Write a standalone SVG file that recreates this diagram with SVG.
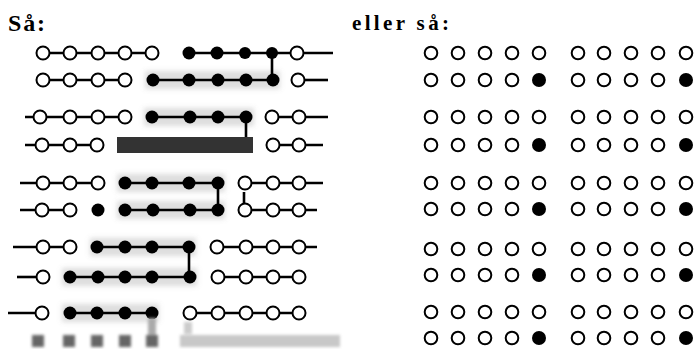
<svg xmlns="http://www.w3.org/2000/svg" width="698" height="349" viewBox="0 0 698 349">
<style>
.o{fill:#fff;stroke:#000;stroke-width:2}
.f{fill:#000}
.l{stroke:#000;stroke-width:2.6;fill:none}
.ro{fill:#fff;stroke:#000;stroke-width:2}
.t{font-family:"Liberation Serif","DejaVu Serif",serif;font-weight:bold;fill:#000}
.halo{fill:#777;opacity:0.25}
</style>
<defs>
<filter id="blur" x="-20%" y="-50%" width="140%" height="200%"><feGaussianBlur stdDeviation="2.5"/></filter>
<filter id="blur2" x="-20%" y="-50%" width="140%" height="200%"><feGaussianBlur stdDeviation="1.5"/></filter>
</defs>
<rect width="698" height="349" fill="#fff"/>
<text class="t" x="8" y="31" font-size="24" textLength="37" lengthAdjust="spacing">Så:</text>
<text class="t" x="352" y="30" font-size="21" textLength="97" lengthAdjust="spacing">eller så:</text>

<g id="halos" filter="url(#blur)">
<rect class="halo" x="145" y="71" width="135" height="18"/>
<rect class="halo" x="144" y="108" width="110" height="18"/>
<rect class="halo" x="117" y="174" width="108" height="18"/>
<rect class="halo" x="117" y="201" width="108" height="18"/>
<rect class="halo" x="90" y="238" width="106" height="18"/>
<rect class="halo" x="62" y="268" width="135" height="18"/>
<rect class="halo" x="62" y="304" width="97" height="18"/>
</g>

<g id="connectors">
<line class="l" x1="43" y1="53" x2="152" y2="53"/>
<line class="l" x1="189" y1="53" x2="333" y2="53"/>
<line class="l" x1="272" y1="53" x2="272" y2="80"/>
<line class="l" x1="43" y1="80" x2="125" y2="80"/>
<line class="l" x1="153" y1="80" x2="273" y2="80"/>
<line class="l" x1="298" y1="80" x2="328" y2="80"/>
<line class="l" x1="25" y1="117" x2="125" y2="117"/>
<line class="l" x1="152" y1="117" x2="246" y2="117"/>
<line class="l" x1="272" y1="117" x2="328" y2="117"/>
<line class="l" x1="246" y1="117" x2="246" y2="138"/>
<line class="l" x1="25" y1="145" x2="97" y2="145"/>
<line class="l" x1="273" y1="145" x2="323" y2="145"/>
<line class="l" x1="20" y1="183" x2="98" y2="183"/>
<line class="l" x1="125" y1="183" x2="218" y2="183"/>
<line class="l" x1="245" y1="183" x2="323" y2="183"/>
<line class="l" x1="218" y1="183" x2="218" y2="210"/>
<line class="l" x1="244" y1="192" x2="244" y2="205"/>
<line class="l" x1="20" y1="210" x2="70" y2="210"/>
<line class="l" x1="125" y1="210" x2="218" y2="210"/>
<line class="l" x1="245" y1="210" x2="317" y2="210"/>
<line class="l" x1="13" y1="247" x2="70" y2="247"/>
<line class="l" x1="97" y1="247" x2="189" y2="247"/>
<line class="l" x1="217" y1="247" x2="317" y2="247"/>
<line class="l" x1="189" y1="247" x2="189" y2="277"/>
<line class="l" x1="17" y1="277" x2="43" y2="277"/>
<line class="l" x1="70" y1="277" x2="190" y2="277"/>
<line class="l" x1="218" y1="277" x2="299" y2="277"/>
<line class="l" x1="8" y1="313" x2="42" y2="313"/>
<line class="l" x1="70" y1="313" x2="152" y2="313"/>
<line class="l" x1="190" y1="313" x2="299" y2="313"/>
</g>

<g id="row1">
<circle class="o" cx="43" cy="53" r="6.5"/><circle class="o" cx="70" cy="53" r="6.5"/><circle class="o" cx="98" cy="53" r="6.5"/><circle class="o" cx="125" cy="53" r="6.5"/><circle class="o" cx="152" cy="53" r="6.5"/>
<circle class="f" cx="189" cy="53" r="6.5"/><circle class="f" cx="217" cy="53" r="6.5"/><circle class="f" cx="245" cy="53" r="6"/><circle class="f" cx="272" cy="53" r="6"/>
<circle class="o" cx="297" cy="53" r="6.5"/>
</g>
<g id="row2">
<circle class="o" cx="43" cy="80" r="6.5"/><circle class="o" cx="70" cy="80" r="6.5"/><circle class="o" cx="98" cy="80" r="6.5"/><circle class="o" cx="125" cy="80" r="6.5"/>
<circle class="f" cx="153" cy="80" r="6.5"/><circle class="f" cx="189" cy="80" r="6.5"/><circle class="f" cx="218" cy="80" r="6.5"/><circle class="f" cx="246" cy="80" r="6.5"/><circle class="f" cx="273" cy="80" r="6.5"/>
<circle class="o" cx="298" cy="80" r="6.5"/>
</g>
<g id="row3">
<circle class="o" cx="40" cy="117" r="6.5"/><circle class="o" cx="70" cy="117" r="6.5"/><circle class="o" cx="98" cy="117" r="6.5"/><circle class="o" cx="125" cy="117" r="6.5"/>
<circle class="f" cx="152" cy="117" r="6.5"/><circle class="f" cx="190" cy="117" r="6.5"/><circle class="f" cx="218" cy="117" r="6.5"/><circle class="f" cx="246" cy="117" r="6.5"/>
<circle class="o" cx="272" cy="117" r="6.5"/><circle class="o" cx="299" cy="117" r="6.5"/>
</g>
<g id="row4">
<circle class="o" cx="42" cy="145" r="6.5"/><circle class="o" cx="70" cy="145" r="6.5"/><circle class="o" cx="97" cy="145" r="6.5"/>
<rect x="117" y="137" width="136" height="16" fill="#333"/>
<circle class="o" cx="273" cy="145" r="6.5"/><circle class="o" cx="299" cy="145" r="6.5"/>
</g>
<g id="row5">
<circle class="o" cx="43" cy="183" r="6.5"/><circle class="o" cx="70" cy="183" r="6.5"/><circle class="o" cx="98" cy="183" r="6.5"/>
<circle class="f" cx="125" cy="183" r="6.5"/><circle class="f" cx="152" cy="183" r="6.5"/><circle class="f" cx="189" cy="183" r="6.5"/><circle class="f" cx="218" cy="183" r="6.5"/>
<circle class="o" cx="245" cy="183" r="6.5"/><circle class="o" cx="273" cy="183" r="6.5"/><circle class="o" cx="299" cy="183" r="6.5"/>
</g>
<g id="row6">
<circle class="o" cx="42" cy="210" r="6.5"/><circle class="o" cx="70" cy="210" r="6.5"/>
<circle class="f" cx="98" cy="210" r="6.5"/>
<circle class="f" cx="125" cy="210" r="6.5"/><circle class="f" cx="153" cy="210" r="6.5"/><circle class="f" cx="190" cy="210" r="6.5"/><circle class="f" cx="218" cy="210" r="6.5"/>
<circle class="o" cx="245" cy="210" r="6.5"/><circle class="o" cx="273" cy="210" r="6.5"/><circle class="o" cx="299" cy="210" r="6.5"/>
</g>
<g id="row7">
<circle class="o" cx="43" cy="247" r="6.5"/><circle class="o" cx="70" cy="247" r="6.5"/>
<circle class="f" cx="97" cy="247" r="6.5"/><circle class="f" cx="125" cy="247" r="6.5"/><circle class="f" cx="152" cy="247" r="6.5"/><circle class="f" cx="189" cy="247" r="6.5"/>
<circle class="o" cx="217" cy="247" r="6.5"/><circle class="o" cx="246" cy="247" r="6.5"/><circle class="o" cx="273" cy="247" r="6.5"/><circle class="o" cx="299" cy="247" r="6.5"/>
</g>
<g id="row8">
<circle class="o" cx="43" cy="277" r="6.5"/>
<circle class="f" cx="70" cy="277" r="6.5"/><circle class="f" cx="98" cy="277" r="6.5"/><circle class="f" cx="125" cy="277" r="6.5"/><circle class="f" cx="152" cy="277" r="6.5"/><circle class="f" cx="190" cy="277" r="6.5"/>
<circle class="o" cx="218" cy="277" r="6.5"/><circle class="o" cx="246" cy="277" r="6.5"/><circle class="o" cx="273" cy="277" r="6.5"/><circle class="o" cx="299" cy="277" r="6.5"/>
</g>
<g id="row9">
<circle class="o" cx="42" cy="313" r="6.5"/>
<circle class="f" cx="70" cy="313" r="6.5"/><circle class="f" cx="97" cy="313" r="6.5"/><circle class="f" cx="125" cy="313" r="6.5"/><circle class="f" cx="152" cy="313" r="6.5"/>
<circle class="o" cx="190" cy="313" r="6.5"/><circle class="o" cx="218" cy="313" r="6.5"/><circle class="o" cx="246" cy="313" r="6.5"/><circle class="o" cx="273" cy="313" r="6.5"/><circle class="o" cx="299" cy="313" r="6.5"/>
</g>
<g id="row10" filter="url(#blur2)">
<rect x="148" y="318" width="8" height="20" fill="#aaa"/>
<rect x="32" y="335" width="12" height="12" fill="#666"/><rect x="63" y="335" width="12" height="12" fill="#666"/><rect x="91" y="335" width="12" height="12" fill="#666"/><rect x="119" y="335" width="12" height="12" fill="#666"/><rect x="146" y="335" width="12" height="12" fill="#666"/>
<rect x="184" y="322" width="8" height="12" fill="#ccc"/>
<rect x="180" y="335" width="160" height="12" fill="#c8c8c8"/>
</g>

<g id="grid">
<g id="g1"><circle class="ro" cx="431" cy="53" r="6.3"/><circle class="ro" cx="458" cy="53" r="6.3"/><circle class="ro" cx="485" cy="53" r="6.3"/><circle class="ro" cx="512" cy="53" r="6.3"/><circle class="ro" cx="539" cy="53" r="6.3"/><circle class="ro" cx="578" cy="53" r="6.3"/><circle class="ro" cx="604" cy="53" r="6.3"/><circle class="ro" cx="631" cy="53" r="6.3"/><circle class="ro" cx="658" cy="53" r="6.3"/><circle class="ro" cx="686" cy="53" r="6.3"/>
<circle class="ro" cx="431" cy="80" r="6.3"/><circle class="ro" cx="458" cy="80" r="6.3"/><circle class="ro" cx="485" cy="80" r="6.3"/><circle class="ro" cx="512" cy="80" r="6.3"/><circle class="f" cx="539" cy="80" r="7"/><circle class="ro" cx="578" cy="80" r="6.3"/><circle class="ro" cx="604" cy="80" r="6.3"/><circle class="ro" cx="631" cy="80" r="6.3"/><circle class="ro" cx="658" cy="80" r="6.3"/><circle class="f" cx="686" cy="80" r="7"/></g>
<g id="g2"><circle class="ro" cx="431" cy="117" r="6.3"/><circle class="ro" cx="458" cy="117" r="6.3"/><circle class="ro" cx="485" cy="117" r="6.3"/><circle class="ro" cx="512" cy="117" r="6.3"/><circle class="ro" cx="539" cy="117" r="6.3"/><circle class="ro" cx="578" cy="117" r="6.3"/><circle class="ro" cx="604" cy="117" r="6.3"/><circle class="ro" cx="631" cy="117" r="6.3"/><circle class="ro" cx="658" cy="117" r="6.3"/><circle class="ro" cx="686" cy="117" r="6.3"/>
<circle class="ro" cx="431" cy="145" r="6.3"/><circle class="ro" cx="458" cy="145" r="6.3"/><circle class="ro" cx="485" cy="145" r="6.3"/><circle class="ro" cx="512" cy="145" r="6.3"/><circle class="f" cx="539" cy="145" r="7"/><circle class="ro" cx="578" cy="145" r="6.3"/><circle class="ro" cx="604" cy="145" r="6.3"/><circle class="ro" cx="631" cy="145" r="6.3"/><circle class="ro" cx="658" cy="145" r="6.3"/><circle class="f" cx="686" cy="145" r="7"/></g>
<g id="g3"><circle class="ro" cx="431" cy="183" r="6.3"/><circle class="ro" cx="458" cy="183" r="6.3"/><circle class="ro" cx="485" cy="183" r="6.3"/><circle class="ro" cx="512" cy="183" r="6.3"/><circle class="ro" cx="539" cy="183" r="6.3"/><circle class="ro" cx="578" cy="183" r="6.3"/><circle class="ro" cx="604" cy="183" r="6.3"/><circle class="ro" cx="631" cy="183" r="6.3"/><circle class="ro" cx="658" cy="183" r="6.3"/><circle class="ro" cx="686" cy="183" r="6.3"/>
<circle class="ro" cx="431" cy="209" r="6.3"/><circle class="ro" cx="458" cy="209" r="6.3"/><circle class="ro" cx="485" cy="209" r="6.3"/><circle class="ro" cx="512" cy="209" r="6.3"/><circle class="f" cx="539" cy="209" r="7"/><circle class="ro" cx="578" cy="209" r="6.3"/><circle class="ro" cx="604" cy="209" r="6.3"/><circle class="ro" cx="631" cy="209" r="6.3"/><circle class="ro" cx="658" cy="209" r="6.3"/><circle class="f" cx="686" cy="209" r="7"/></g>
<g id="g4"><circle class="ro" cx="431" cy="249" r="6.3"/><circle class="ro" cx="458" cy="249" r="6.3"/><circle class="ro" cx="485" cy="249" r="6.3"/><circle class="ro" cx="512" cy="249" r="6.3"/><circle class="ro" cx="539" cy="249" r="6.3"/><circle class="ro" cx="578" cy="249" r="6.3"/><circle class="ro" cx="604" cy="249" r="6.3"/><circle class="ro" cx="631" cy="249" r="6.3"/><circle class="ro" cx="658" cy="249" r="6.3"/><circle class="ro" cx="686" cy="249" r="6.3"/>
<circle class="ro" cx="431" cy="275" r="6.3"/><circle class="ro" cx="458" cy="275" r="6.3"/><circle class="ro" cx="485" cy="275" r="6.3"/><circle class="ro" cx="512" cy="275" r="6.3"/><circle class="f" cx="539" cy="275" r="7"/><circle class="ro" cx="578" cy="275" r="6.3"/><circle class="ro" cx="604" cy="275" r="6.3"/><circle class="ro" cx="631" cy="275" r="6.3"/><circle class="ro" cx="658" cy="275" r="6.3"/><circle class="f" cx="686" cy="275" r="7"/></g>
<g id="g5"><circle class="ro" cx="431" cy="312" r="6.3"/><circle class="ro" cx="458" cy="312" r="6.3"/><circle class="ro" cx="485" cy="312" r="6.3"/><circle class="ro" cx="512" cy="312" r="6.3"/><circle class="ro" cx="539" cy="312" r="6.3"/><circle class="ro" cx="578" cy="312" r="6.3"/><circle class="ro" cx="604" cy="312" r="6.3"/><circle class="ro" cx="631" cy="312" r="6.3"/><circle class="ro" cx="658" cy="312" r="6.3"/><circle class="ro" cx="686" cy="312" r="6.3"/>
<circle class="ro" cx="431" cy="338" r="6.3"/><circle class="ro" cx="458" cy="338" r="6.3"/><circle class="ro" cx="485" cy="338" r="6.3"/><circle class="ro" cx="512" cy="338" r="6.3"/><circle class="f" cx="539" cy="338" r="7"/><circle class="ro" cx="578" cy="338" r="6.3"/><circle class="ro" cx="604" cy="338" r="6.3"/><circle class="ro" cx="631" cy="338" r="6.3"/><circle class="ro" cx="658" cy="338" r="6.3"/><circle class="f" cx="686" cy="338" r="7"/></g>
</g>
</svg>
